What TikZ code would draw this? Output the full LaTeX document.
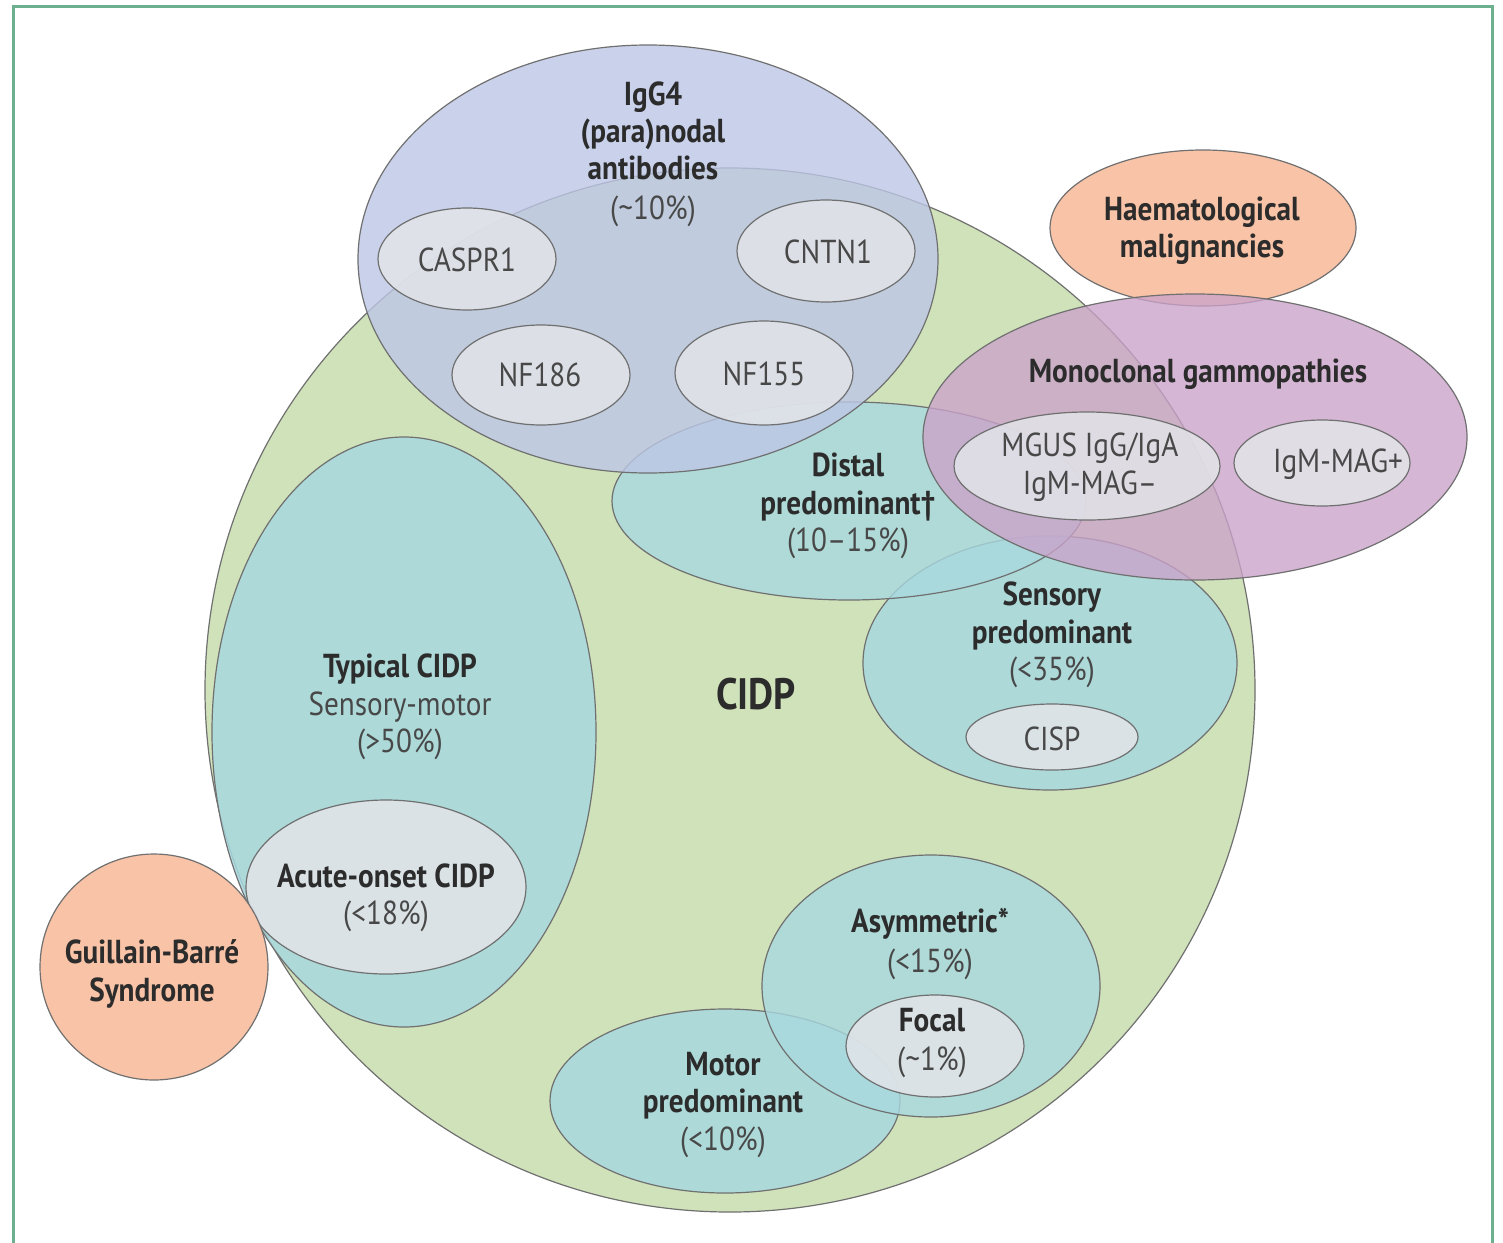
\documentclass[tikz,border=0pt]{standalone}
\usepackage{fontspec}
\setmainfont{PT Sans}[FakeStretch=0.88]
\usetikzlibrary{shapes.geometric}
\definecolor{framec}{HTML}{6DB08F}
\definecolor{edge}{HTML}{707070}
\definecolor{cgreen}{HTML}{C7DEAF}
\definecolor{cblue}{HTML}{BDC7E6}
\definecolor{cteal}{HTML}{A8D8DF}
\definecolor{cgrey}{HTML}{E2E4E8}
\definecolor{corange}{HTML}{F8C3A6}
\definecolor{cpurple}{HTML}{CBA2CA}
\definecolor{ink}{HTML}{2C2C2C}
\definecolor{ink2}{HTML}{484848}
\tikzset{
  blob/.style={ellipse, draw=edge, line width=0.6pt, inner sep=0pt, outer sep=0pt, fill opacity=0.85},
  lbl/.style={font=\fontsize{16.6}{18.7}\selectfont, text=ink, align=center, inner sep=0pt},
  big/.style={font=\bfseries\fontsize{22}{24}\selectfont, text=ink, inner sep=0pt}
}
\newcommand{\bt}[1]{\textbf{#1}}
\newcommand{\rt}[1]{\textcolor{ink2}{#1}}
\begin{document}
\begin{tikzpicture}[x=0.5pt,y=-0.5pt]
\useasboundingbox (0,0) rectangle (1503,1242);
\fill[white] (0,0) rectangle (1503,1242);
\draw[framec, line width=1.5pt] (13,6) rectangle (1492,1270);
% main circle
\node[blob, fill=cgreen, minimum width=525pt, minimum height=522pt] (cidp) at (730,690) {};
% teal subgroups
\node[blob, fill=cteal, minimum width=192pt, minimum height=295pt] (typical) at (404,732) {};
\node[blob, fill=cgrey, minimum width=140pt, minimum height=87pt] (acute) at (386,887) {};
\node[blob, fill=cteal, minimum width=175pt, minimum height=92pt] (motor) at (725,1101) {};
\node[blob, fill=cteal, minimum width=169pt, minimum height=131pt, fill opacity=0.8] (asym) at (931,986) {};
\node[blob, fill=cgrey, minimum width=89pt, minimum height=51pt] (focal) at (935,1046) {};
\node[blob, fill=cteal, minimum width=187pt, minimum height=127pt] (sensory) at (1050,663) {};
\node[blob, fill=cgrey, minimum width=86pt, minimum height=33pt] (cisp) at (1052,737) {};
\node[blob, fill=cteal, minimum width=237pt, minimum height=99pt, fill opacity=0.8] (distal) at (849,501) {};
% IgG4 group
\node[blob, fill=cblue, minimum width=290pt, minimum height=214pt, fill opacity=0.8] (igg) at (648,259) {};
\node[blob, fill=cgrey, minimum width=89pt, minimum height=51pt] (caspr) at (467,259) {};
\node[blob, fill=cgrey, minimum width=89pt, minimum height=51pt] (cntn) at (826,251) {};
\node[blob, fill=cgrey, minimum width=89pt, minimum height=50pt] (nfa) at (541,375) {};
\node[blob, fill=cgrey, minimum width=89pt, minimum height=52pt] (nfb) at (764,373) {};
% haematological / monoclonal
\node[blob, fill=corange, minimum width=153pt, minimum height=78pt, fill opacity=1] (haem) at (1203,228) {};
\node[blob, fill=cpurple, minimum width=272pt, minimum height=143pt, fill opacity=0.78] (mono) at (1195,437) {};
\node[blob, fill=cgrey, minimum width=133pt, minimum height=54pt] (mgus) at (1087,466) {};
\node[blob, fill=cgrey, minimum width=88pt, minimum height=43pt] (igm) at (1322,463) {};
% GBS
\node[blob, fill=corange, minimum width=114pt, minimum height=113pt, fill opacity=1] (gbs) at (154,967) {};
% labels
\node[lbl] (tigg) at (653,154) {\bt{IgG4}\\\bt{(para)nodal}\\\bt{antibodies}\\[1pt]\rt{(\textasciitilde10\%)}};
\node[lbl] (tcaspr) at (467,260) {\rt{CASPR1}};
\node[lbl] (tcntn) at (828,252) {\rt{CNTN1}};
\node[lbl] (tnfa) at (540,375) {\rt{NF186}};
\node[lbl] (tnfb) at (764,374) {\rt{NF155}};
\node[lbl] (thaem) at (1202,231) {\bt{Haematological}\\\bt{malignancies}};
\node[lbl] (tmono) at (1198,374) {\bt{Monoclonal gammopathies}};
\node[lbl] (tmgus) at (1090,467) {\rt{MGUS IgG/IgA}\\\rt{IgM-MAG–}};
\node[lbl] (tigm) at (1338,464) {\rt{IgM-MAG+}};
\node[lbl] (tdistal) at (848,506) {\bt{Distal}\\\bt{predominant†}\\\rt{(10–15\%)}};
\node[lbl] (tsens) at (1052,635) {\bt{Sensory}\\\bt{predominant}\\\rt{(<35\%)}};
\node[lbl] (tcisp) at (1052,739) {\rt{CISP}};
\node[big] (tcidp) at (756,694) {CIDP};
\node[lbl] (ttyp) at (400,707) {\bt{Typical CIDP}\\\rt{Sensory-motor}\\\rt{(>50\%)}};
\node[lbl] (tacute) at (386,898) {\bt{Acute-onset CIDP}\\\rt{(<18\%)}};
\node[lbl] (tgbs) at (152,974) {\bt{Guillain-Barré}\\\bt{Syndrome}};
\node[lbl] (tasym) at (930,944) {\bt{Asymmetric*}\\[1pt]\rt{(<15\%)}};
\node[lbl] (tfocal) at (932,1043) {\bt{Focal}\\[1pt]\rt{(\textasciitilde1\%)}};
\node[lbl] (tmotor) at (723,1105) {\bt{Motor}\\\bt{predominant}\\\rt{(<10\%)}};
\end{tikzpicture}
\end{document}
